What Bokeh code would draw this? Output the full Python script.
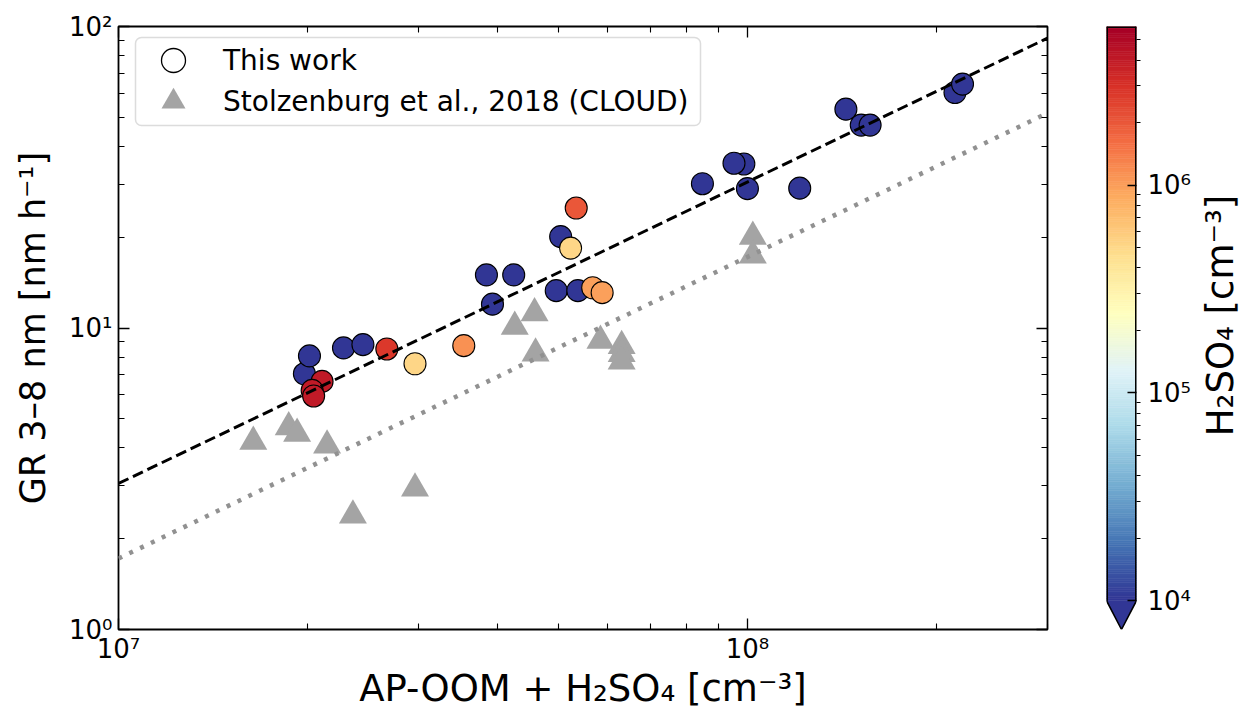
import numpy as np
from math import pi
from bokeh.plotting import figure
from bokeh.models import (ColumnDataSource, FixedTicker, LogAxis, Legend, LegendItem,
                          BoxAnnotation, Label, CustomJSTickFormatter)
from bokeh.layouts import row
from bokeh.transform import log_cmap
from bokeh.embed import file_html
from bokeh.resources import INLINE

# ---------------- data ----------------
# This work: AP-OOM + H2SO4 [cm-3], GR 3-8 nm [nm/h], H2SO4 [cm-3] (colour)
tw_x = [1.975e7, 2.012e7, 2.279e7, 2.447e7, 3.846e7, 4.25e7, 3.932e7, 5.047e7, 4.966e7, 5.375e7,
        8.481e7, 9.87e7, 9.52e7, 1.0e8, 1.211e8, 1.434e8, 1.517e8, 1.567e8, 2.138e8, 2.198e8,
        3.54e7, 2.961e7, 5.234e7, 5.675e7, 5.875e7, 5.343e7, 2.671e7, 2.107e7, 2.032e7, 2.043e7]
tw_gr = [7.05, 8.08, 8.59, 8.81, 15.0, 15.0, 12.0, 20.1, 13.3, 13.3,
         30.1, 35.0, 35.2, 29.0, 29.1, 53.2, 47.1, 47.1, 60.4, 64.4,
         8.74, 7.61, 18.4, 13.6, 13.1, 25.0, 8.52, 6.65, 6.21, 5.95]
tw_h2so4 = [6e3, 6e3, 6e3, 6e3, 6e3, 6e3, 6e3, 6e3, 6e3, 6e3,
            6e3, 6e3, 6e3, 6e3, 6e3, 6e3, 6e3, 6e3, 6e3, 6e3,
            1.15e6, 5.2e5, 5.2e5, 9.8e5, 9.8e5, 2.0e6, 2.8e6, 4.0e6, 4.0e6, 4.0e6]

# Stolzenburg et al., 2018 (CLOUD)
st_x = [1.638e7, 1.865e7, 1.923e7, 2.146e7, 2.359e7, 2.961e7, 4.587e7, 4.266e7, 4.604e7,
        5.838e7, 6.31e7, 6.31e7, 6.31e7, 1.02e8, 1.02e8]
st_gr = [4.20, 4.69, 4.46, 4.08, 2.39, 2.94, 11.2, 10.1, 8.24,
         9.08, 8.72, 8.2, 7.75, 20.1, 17.4]

# proportional fits GR = k * C
fit_tw_k = 3.05e-7
fit_st_k = 1.72e-7
fit_x = [1e7, 3e8]

x_major = [1e7, 1e8]
x_minor = [2e7, 3e7, 4e7, 5e7, 6e7, 7e7, 8e7, 9e7, 2e8, 3e8]
y_major = [1, 10, 100]
y_minor = [2, 3, 4, 5, 6, 7, 8, 9, 20, 30, 40, 50, 60, 70, 80, 90]
cb_major = [1e4, 1e5, 1e6]
cb_minor = [2e4, 3e4, 4e4, 5e4, 6e4, 7e4, 8e4, 9e4, 2e5, 3e5, 4e5, 5e5, 6e5, 7e5, 8e5, 9e5,
            2e6, 3e6, 4e6, 5e6]
cb_low, cb_high = 1e4, 5.8e6

legend_labels = ["This work", "Stolzenburg et al., 2018 (CLOUD)"]
x_title = "AP-OOM + H\u2082SO\u2084 [cm\u207b\u00b3]"
y_title = "GR 3\u20138 nm [nm h\u207b\u00b9]"
cb_title = "H\u2082SO\u2084 [cm\u207b\u00b3]"

# ---------------- palette (RdYlBu reversed) ----------------
anchors = ['#313695', '#4575b4', '#74add1', '#abd9e9', '#e0f3f8', '#ffffbf',
           '#fee090', '#fdae61', '#f46d43', '#d73027', '#a50026']
anc = np.array([[int(h[i:i + 2], 16) for i in (1, 3, 5)] for h in anchors], float)
tt = np.linspace(0, 1, 256)
ta = np.linspace(0, 1, len(anchors))
pal = ['#%02x%02x%02x' % tuple(int(round(np.interp(t, ta, anc[:, k]))) for k in range(3)) for t in tt]

FONT = "DejaVu Sans"
TICK_FS = "26px"
H = 712
sup_code = """
const s = {'0':'\u2070','1':'\u00b9','2':'\u00b2','3':'\u00b3','4':'\u2074','5':'\u2075',
           '6':'\u2076','7':'\u2077','8':'\u2078','9':'\u2079','-':'\u207b'};
const e = Math.round(Math.log10(tick));
return '10' + String(e).split('').map(c => s[c]).join('');
"""

# ---------------- main figure ----------------
p = figure(width=1080, height=H, x_axis_type="log", y_axis_type="log",
           x_range=(1e7, 3e8), y_range=(1, 100),
           output_backend="svg", toolbar_location=None,
           min_border_left=118, min_border_right=33, min_border_top=26, min_border_bottom=H - 632)
p.grid.visible = False
p.outline_line_color = "black"
p.outline_line_width = 1.8
p.background_fill_color = "white"
xb = p.below[0]
yl = p.left[0]


def style_axis(ax, labels=True):
    ax.axis_line_color = None
    ax.major_tick_in = 11
    ax.major_tick_out = 0
    ax.minor_tick_in = 6
    ax.minor_tick_out = 0
    ax.major_tick_line_color = "black"
    ax.minor_tick_line_color = "black"
    ax.major_tick_line_width = 1.3
    ax.minor_tick_line_width = 1.1
    if labels:
        ax.formatter = CustomJSTickFormatter(code=sup_code)
        ax.major_label_text_font = FONT
        ax.major_label_text_font_size = TICK_FS
        ax.major_label_text_color = "black"
    else:
        ax.formatter = CustomJSTickFormatter(code="return '';")
        ax.major_label_text_font_size = "0px"
        ax.major_label_standoff = 0


xb.ticker = FixedTicker(ticks=x_major, minor_ticks=x_minor)
yl.ticker = FixedTicker(ticks=y_major, minor_ticks=y_minor)
style_axis(xb)
style_axis(yl)
xb.major_label_standoff = 4
yl.major_label_standoff = 6

top_ax = LogAxis(ticker=FixedTicker(ticks=x_major, minor_ticks=x_minor))
style_axis(top_ax, labels=False)
p.add_layout(top_ax, "above")
right_ax = LogAxis(ticker=FixedTicker(ticks=y_major, minor_ticks=y_minor))
style_axis(right_ax, labels=False)
p.add_layout(right_ax, "right")

xb.axis_label = x_title
yl.axis_label = y_title
for ax in (xb, yl):
    ax.axis_label_text_font = FONT
    ax.axis_label_text_font_style = "normal"
    ax.axis_label_text_color = "black"
xb.axis_label_text_font_size = "37px"
yl.axis_label_text_font_size = "35px"
xb.axis_label_standoff = 0
yl.axis_label_standoff = 13

GRAY = "#a4a4a4"
st_src = ColumnDataSource(dict(x=st_x, y=st_gr))
p.scatter("x", "y", source=st_src, marker="triangle", size=28, fill_color=GRAY, line_color=None)

tw_src = ColumnDataSource(dict(x=tw_x, y=tw_gr, h=tw_h2so4))
p.scatter("x", "y", source=tw_src, marker="circle", size=22,
          fill_color=log_cmap("h", pal, cb_low, cb_high, low_color="#313695"),
          line_color="black", line_width=1.1)

p.line(fit_x, [fit_tw_k * v for v in fit_x], line_color="black", line_width=3, line_dash="11 5")
p.line(fit_x, [fit_st_k * v for v in fit_x], line_color="#919191", line_width=4.5, line_dash="4 8")

# legend: frame box + one single-row legend per entry
leg_c = p.scatter(x=np.array([np.nan]), y=np.array([np.nan]), marker="circle",
                  fill_color="white", line_color="black", line_width=1.3)
leg_t = p.scatter(x=np.array([np.nan]), y=np.array([np.nan]), marker="triangle",
                  fill_color=GRAY, line_color=None)
box = BoxAnnotation(left=17, right=582, top=592, bottom=504,
                    left_units="screen", right_units="screen", top_units="screen", bottom_units="screen",
                    fill_color="white", fill_alpha=0.85, line_color="#8c8c8c", line_width=1.5,
                    border_radius=6)
p.add_layout(box)
for lab, rend, ybot in ((legend_labels[0], leg_c, 539), (legend_labels[1], leg_t, 498)):
    lg_ = Legend(items=[LegendItem(label=lab, renderers=[rend])],
                 location=(17, ybot), glyph_width=76, glyph_height=60, label_height=20,
                 spacing=0, padding=0, margin=0, label_standoff=12,
                 border_line_color=None, background_fill_alpha=0,
                 label_text_font=FONT, label_text_font_size="28px", label_text_color="black")
    p.add_layout(lg_)

# ---------------- colour bar ----------------
dec = 578.0 / np.log10(cb_high / cb_low)      # px per decade on the bar
cb_tip = cb_low / 10 ** (29.0 / dec)
cb = figure(width=116, height=H, x_range=(0, 1), y_range=(cb_tip, cb_high), y_axis_type="log",
            x_axis_location=None, y_axis_location="right",
            output_backend="svg", toolbar_location=None,
            min_border_left=26, min_border_right=60, min_border_top=25, min_border_bottom=H - 632)
cb.grid.visible = False
cb.outline_line_color = None
lg = np.linspace(np.log10(cb_low), np.log10(cb_high), len(pal) + 1)
cb.quad(left=0, right=1, bottom=list(10 ** lg[:-1]), top=list(10 ** lg[1:]),
        fill_color=pal, line_color=pal, line_width=0.6)
cb.patch([0, 1, 0.5], [cb_low, cb_low, cb_tip], fill_color="#313695", line_color=None)
cb.line([0, 0], [cb_low, cb_high], line_color="black", line_width=3)
cb.line([1, 1], [cb_low, cb_high], line_color="black", line_width=3)
cb.line([0, 1], [cb_high, cb_high], line_color="black", line_width=3)
cb.line([0, 0.5, 1], [cb_low, cb_tip, cb_low], line_color="black", line_width=1.6)

cax = cb.yaxis[0]
cax.ticker = FixedTicker(ticks=cb_major, minor_ticks=cb_minor)
cax.formatter = CustomJSTickFormatter(code=sup_code)
cax.axis_line_color = None
cax.major_tick_in = 9
cax.major_tick_out = 0
cax.minor_tick_in = 0
cax.minor_tick_out = 4
cax.major_tick_line_width = 1.3
cax.minor_tick_line_width = 1.1
cax.major_label_standoff = 7
cax.major_label_text_font = FONT
cax.major_label_text_font_size = TICK_FS
cax.major_label_text_color = "black"

# colour-bar title lives in its own narrow panel so it is not clipped
tf = figure(width=46, height=H, x_range=(0, 1), y_range=(0, 1),
            x_axis_location=None, y_axis_location=None,
            output_backend="svg", toolbar_location=None,
            min_border_left=0, min_border_right=0, min_border_top=0, min_border_bottom=0)
tf.grid.visible = False
tf.outline_line_color = None
tf.add_layout(Label(x=24, y=314, x_units="screen", y_units="screen",
                    text=cb_title, angle=pi / 2,
                    text_align="center", text_baseline="middle",
                    text_font=FONT, text_font_size="37px", text_color="black"))

layout = row(p, cb, tf)
open("out.html", "w").write(file_html(layout, INLINE))
